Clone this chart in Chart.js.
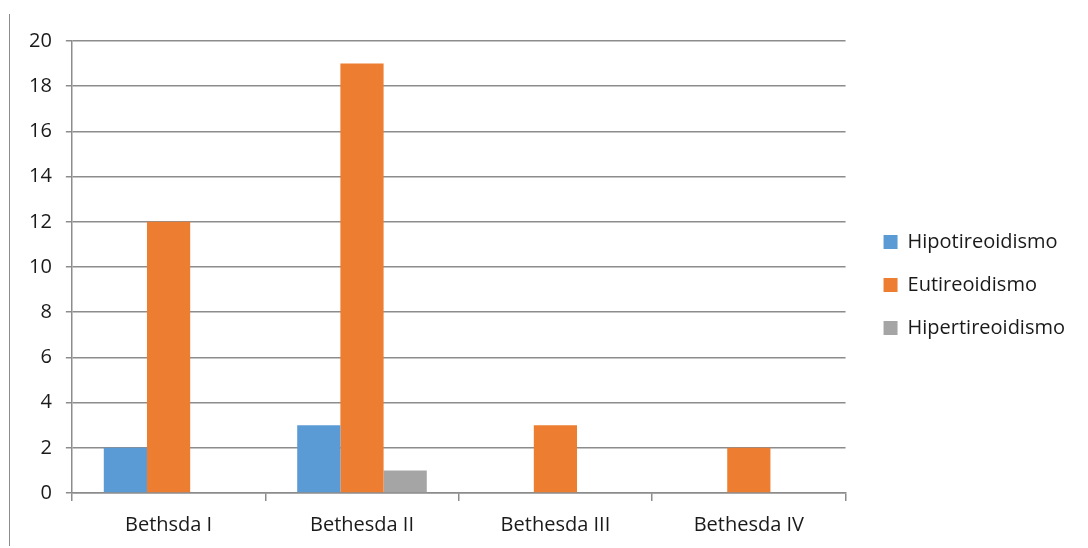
<!DOCTYPE html>
<html>
<head>
<meta charset="utf-8">
<script src="https://cdn.jsdelivr.net/npm/chart.js@4.4.0/dist/chart.umd.min.js"></script>
<style>
    html, body { margin: 0; padding: 0; background: #fff; }
    #wrap { position: relative; width: 1088px; height: 548px; }
    #edge { position: absolute; left: 9px; top: 14px; width: 0; height: 532px; border-left: 1px solid #8c8c8c; }
</style>
</head>
<body>
<div id="wrap">
    <div id="edge"></div>
    <canvas id="bethesdaChart" width="1088" height="548"></canvas>
</div>
<script>
// Clasificación Bethesda vs. función tiroidea
const categorias = ['Bethsda I', 'Bethesda II', 'Bethesda III', 'Bethesda IV'];
const hipotireoidismo = [2, 3, 0, 0];
const eutireoidismo = [12, 19, 3, 2];
const hipertireoidismo = [0, 1, 0, 0];
const ticksY = [0, 2, 4, 6, 8, 10, 12, 14, 16, 18, 20];

const colores = {
    hipo: '#5B9BD5',
    eu: '#ED7D31',
    hiper: '#A5A5A5',
    grid: '#8c8c8c',
    texto: '#1a1a1a'
};

const fuente = { family: '"Open Sans", sans-serif', size: 20 };

// separa un poco más la leyenda del área del gráfico y la sube un poco
const desplazarLeyenda = {
    id: 'desplazarLeyenda',
    afterLayout(chart) {
        if (chart.legend) {
            chart.legend.left += 15;
            chart.legend.right += 15;
            chart.legend.top -= 20;
        }
    }
};

const ctx = document.getElementById('bethesdaChart').getContext('2d');
new Chart(ctx, {
    type: 'bar',
    data: {
        labels: categorias,
        datasets: [
            { label: 'Hipotireoidismo', data: hipotireoidismo, backgroundColor: colores.hipo },
            { label: 'Eutireoidismo', data: eutireoidismo, backgroundColor: colores.eu },
            { label: 'Hipertireoidismo', data: hipertireoidismo, backgroundColor: colores.hiper }
        ]
    },
    plugins: [desplazarLeyenda],
    options: {
        responsive: false,
        animation: false,
        datasets: {
            bar: { categoryPercentage: 0.67, barPercentage: 1.0 }
        },
        layout: {
            padding: { left: 15, right: 28, top: 41, bottom: -1 }
        },
        plugins: {
            legend: {
                position: 'right',
                labels: {
                    boxWidth: 14,
                    boxHeight: 14,
                    padding: 23,
                    color: colores.texto,
                    font: fuente
                }
            },
            tooltip: { enabled: false }
        },
        scales: {
            x: {
                grid: {
                    offset: true,
                    drawOnChartArea: false,
                    drawTicks: true,
                    tickLength: 8,
                    color: colores.grid,
                    lineWidth: 1.5
                },
                border: { color: colores.grid, width: 1.5 },
                ticks: { color: colores.texto, font: fuente, padding: 12 }
            },
            y: {
                min: 0,
                max: 20,
                afterBuildTicks: (axis) => { axis.ticks = ticksY.map(v => ({ value: v })); },
                grid: {
                    color: colores.grid,
                    lineWidth: 1.5,
                    tickLength: 6
                },
                border: { color: colores.grid, width: 1.5 },
                ticks: { color: colores.texto, font: fuente, padding: 14 }
            }
        }
    }
});
</script>
</body>
</html>
